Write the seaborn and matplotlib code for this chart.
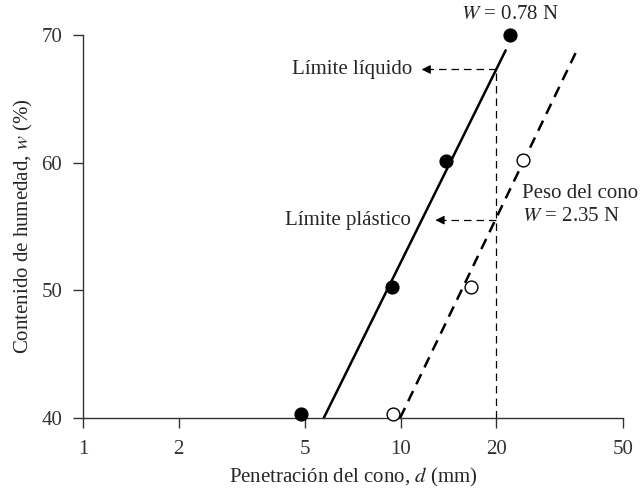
import numpy as np
import pandas as pd
import matplotlib
matplotlib.use("Agg")
import matplotlib.pyplot as plt
from matplotlib.ticker import FixedLocator, FixedFormatter, NullLocator
import seaborn as sns

# measured points (cone penetration d in mm, water content w in %)
d_light = [4.85, 9.4, 13.9, 22.1]      # W = 0.78 N (filled)
w_light = [40.3, 50.3, 60.1, 70.0]
d_heavy = [9.45, 16.6, 24.2]           # W = 2.35 N (open)
w_heavy = [40.3, 50.3, 60.2]

# fitted lines (end points)
fit_light_d = [5.72, 21.4]
fit_light_w = [40.0, 68.8]
fit_heavy_d = [9.95, 35.7]
fit_heavy_w = [40.0, 68.7]

# limits read at d = 20 mm
d_ref = 20
w_LL = 67.3
w_PL = 55.5

x_ticks = [1, 2, 5, 10, 20, 50]
y_ticks = [40, 50, 60, 70]

sns.set_style("ticks")
plt.rcParams['font.family'] = ['Liberation Serif', 'DejaVu Serif']
plt.rcParams['mathtext.fontset'] = 'stix'
fs = 15

fig, ax = plt.subplots(figsize=(6.4, 4.93), dpi=100)
fig.subplots_adjust(left=0.13, right=0.973, bottom=0.152, top=0.929)

df_fl = pd.DataFrame({'d': fit_light_d, 'w': fit_light_w})
df_fh = pd.DataFrame({'d': fit_heavy_d, 'w': fit_heavy_w})
sns.lineplot(data=df_fl, x='d', y='w', ax=ax, color='black', lw=1.8, clip_on=False)
sns.lineplot(data=df_fh, x='d', y='w', ax=ax, color='black', lw=1.8,
             linestyle=(0, (4.5, 3)), clip_on=False)

# guide lines
ax.plot([d_ref, d_ref], [40, w_LL], color='black', lw=0.9, linestyle=(0, (6, 4)))
ax.plot([d_ref, 12.0], [w_LL, w_LL], color='black', lw=0.9, linestyle=(0, (6, 4)))
ax.plot([d_ref, 13.2], [w_PL, w_PL], color='black', lw=0.9, linestyle=(0, (6, 4)))
ax.annotate('', xy=(11.4, w_LL), xytext=(12.3, w_LL),
            arrowprops=dict(arrowstyle='-|>', color='black', lw=0.9, mutation_scale=13))
ax.annotate('', xy=(12.6, w_PL), xytext=(13.5, w_PL),
            arrowprops=dict(arrowstyle='-|>', color='black', lw=0.9, mutation_scale=13))

df_l = pd.DataFrame({'d': d_light, 'w': w_light})
df_h = pd.DataFrame({'d': d_heavy, 'w': w_heavy})
sns.scatterplot(data=df_l, x='d', y='w', ax=ax, color='black', s=85,
                edgecolor='black', linewidth=1, clip_on=False, zorder=5)
sns.scatterplot(data=df_h, x='d', y='w', ax=ax, facecolor='white', s=85,
                edgecolor='black', linewidth=1, clip_on=False, zorder=5)

ax.set_xscale('log')
ax.set_xlim(1, 50)
ax.set_ylim(40, 70)
ax.xaxis.set_major_locator(FixedLocator(x_ticks))
ax.xaxis.set_major_formatter(FixedFormatter([str(t) for t in x_ticks]))
ax.xaxis.set_minor_locator(NullLocator())
ax.set_yticks(y_ticks)
ax.tick_params(axis='both', direction='out', length=7, width=1, labelsize=fs,
               colors='#333333')
ax.tick_params(axis='x', pad=9)
ax.tick_params(axis='y', pad=8)
for s in ['left', 'bottom']:
    ax.spines[s].set_linewidth(1)
    ax.spines[s].set_color('#333333')
sns.despine(ax=ax)

ax.set_xlabel('Penetración del cono, $d$ (mm)', fontsize=fs, labelpad=5)
ax.set_ylabel('Contenido de humedad, $w$ (%)', fontsize=fs, labelpad=5)

ax.text(10.9, w_LL, 'Límite líquido', ha='right', va='center', fontsize=fs)
ax.text(10.8, w_PL, 'Límite plástico', ha='right', va='center', fontsize=fs)
ax.text(24.1, 57.6, 'Peso del cono', ha='left', va='center', fontsize=fs)
ax.text(24.1, 55.8, '$W$ = 2.35 N', ha='left', va='center', fontsize=fs)
ax.text(22.0, 71.6, '$W$ = 0.78 N', ha='center', va='center', fontsize=fs,
        clip_on=False)

fig.savefig('out.png', dpi=100)
